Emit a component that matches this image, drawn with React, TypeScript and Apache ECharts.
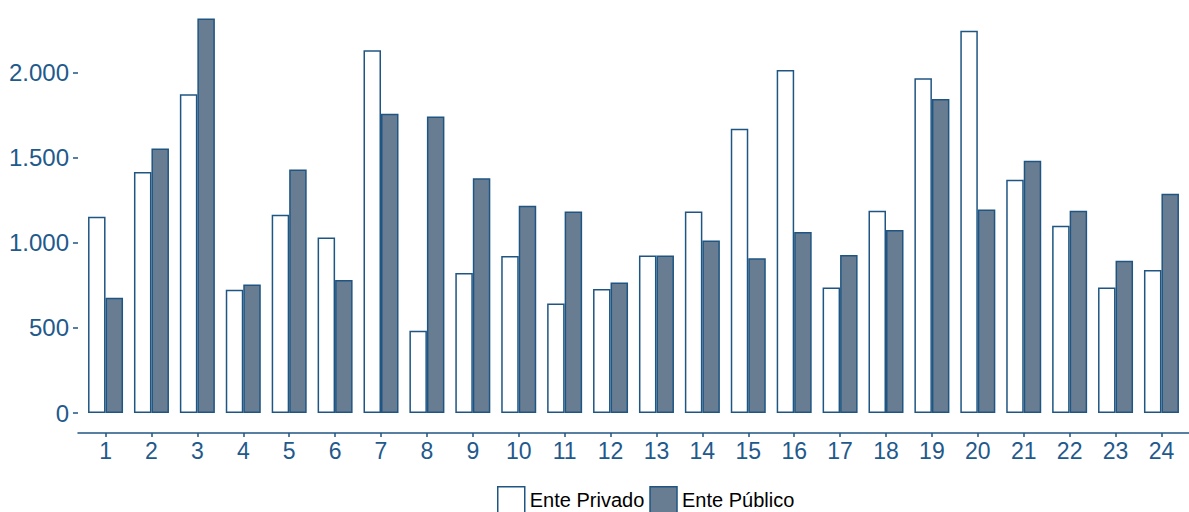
import React, { useEffect, useRef } from "react";
import * as echarts from "echarts";

const categories = [1, 2, 3, 4, 5, 6, 7, 8, 9, 10, 11, 12, 13, 14, 15, 16, 17, 18, 19, 20, 21, 22, 23, 24];
const entePrivado = [1153, 1416, 1873, 724, 1165, 1031, 2131, 484, 822, 922, 643, 729, 925, 1184, 1671, 2016, 737, 1188, 1967, 2247, 1371, 1100, 737, 841];
const entePublico = [678, 1555, 2318, 755, 1431, 782, 1759, 1743, 1380, 1218, 1184, 767, 925, 1014, 910, 1063, 929, 1076, 1845, 1196, 1482, 1188, 894, 1288];
const yTicks = [0, 500, 1000, 1500, 2000];
const seriesNames = ["Ente Privado", "Ente Público"];

const BLUE = "#1f5582";
const TEXT = "#22598b";
const FILL_DARK = "#687d92";
const FONT = "Liberation Sans, Arial, sans-serif";

function fmt(v: number): string {
  return String(v).replace(/\B(?=(\d{3})+(?!\d))/g, ".");
}

export default function App() {
  const ref = useRef<HTMLDivElement>(null);
  useEffect(() => {
    if (!ref.current) return;
    const chart = echarts.init(ref.current, null, { renderer: "svg" });
    chart.setOption({
      animation: false,
      backgroundColor: "#ffffff",
      textStyle: { fontFamily: FONT },
      grid: { left: 78, right: -13, top: 0, bottom: 99, containLabel: false },
      legend: {
        left: 497,
        top: 486,
        padding: 0,
        orient: "horizontal",
        itemWidth: 27,
        itemHeight: 27,
        itemGap: 5,
        icon: "rect",
        textStyle: { color: "#000000", fontSize: 20, fontFamily: FONT, padding: [0, 0, 0, 0] },
        data: [
          { name: seriesNames[0], itemStyle: { color: "#ffffff", borderColor: BLUE, borderWidth: 1.5 } },
          { name: seriesNames[1], itemStyle: { color: FILL_DARK, borderColor: BLUE, borderWidth: 1.5 } },
        ],
      },
      xAxis: {
        type: "value",
        min: 0.4,
        max: 24.6,
        offset: 20,
        splitLine: { show: false },
        axisLine: { show: true, onZero: false, lineStyle: { color: BLUE, width: 1.5 } },
        axisTick: { show: true, length: 4, customValues: categories, lineStyle: { color: BLUE, width: 1.5 } },
        axisLabel: {
          customValues: categories,
          color: TEXT,
          fontSize: 23,
          fontFamily: FONT,
          margin: 6,
          formatter: (v: number) => String(v),
        },
      },
      yAxis: {
        type: "value",
        min: 0,
        max: 2427,
        splitLine: { show: false },
        axisLine: { show: false },
        axisTick: { show: true, length: 5, customValues: yTicks, lineStyle: { color: BLUE, width: 1.5 } },
        axisLabel: {
          customValues: yTicks,
          color: TEXT,
          fontSize: 24,
          fontFamily: FONT,
          margin: 9,
          formatter: (v: number) => fmt(v),
        },
      },
      series: [
        {
          name: seriesNames[0],
          type: "bar",
          barWidth: 17.5,
          barGap: "0%",
          data: categories.map((c, i) => [c, entePrivado[i]]),
          itemStyle: { color: "#ffffff", borderColor: BLUE, borderWidth: 1.5 },
        },
        {
          name: seriesNames[1],
          type: "bar",
          barWidth: 17.5,
          barGap: "0%",
          data: categories.map((c, i) => [c, entePublico[i]]),
          itemStyle: { color: FILL_DARK, borderColor: BLUE, borderWidth: 1.5 },
        },
      ],
    });
    return () => chart.dispose();
  }, []);
  return <div ref={ref} style={{ position: "fixed", left: 0, top: 0, width: 1189, height: 512 }} />;
}
